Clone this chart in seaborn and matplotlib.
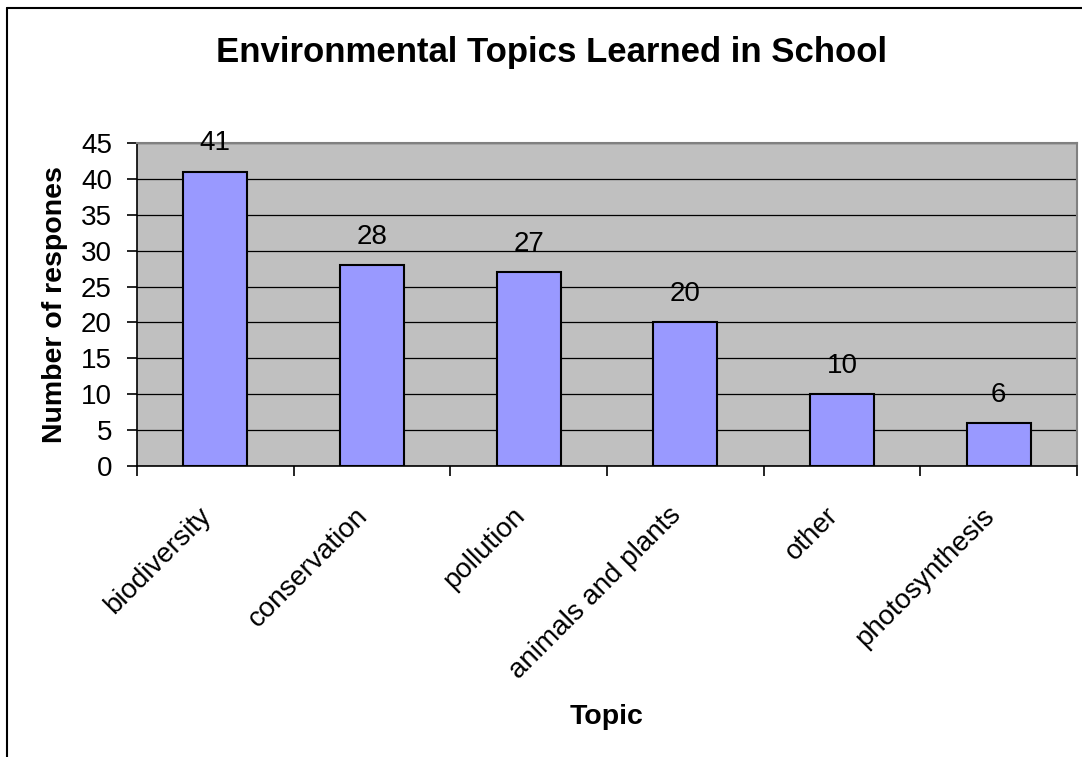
import matplotlib
matplotlib.use("Agg")
import matplotlib.pyplot as plt
from matplotlib.lines import Line2D
import numpy as np
import pandas as pd
import seaborn as sns

# chart data
topics = ["biodiversity", "conservation", "pollution",
          "animals and plants", "other", "photosynthesis"]
responses = [41, 28, 27, 20, 10, 6]
y_ticks = [0, 5, 10, 15, 20, 25, 30, 35, 40, 45]

sns.set_style("white")
plt.rcParams['font.family'] = ['Liberation Sans', 'DejaVu Sans']
plt.rcParams['text.color'] = 'black'
plt.rcParams['xtick.color'] = 'black'
plt.rcParams['ytick.color'] = 'black'
plt.rcParams['axes.labelcolor'] = 'black'

df = pd.DataFrame({"topic": topics, "responses": responses})

fig = plt.figure(figsize=(10.82, 7.57), dpi=100)
ax = fig.add_axes([0.1266, 0.3844, 0.8688, 0.4267])

sns.barplot(data=df, x="topic", y="responses", color="#9999FF",
            saturation=1, width=0.41, edgecolor="black", linewidth=1.5,
            ax=ax, zorder=3)

ax.set_facecolor("#C0C0C0")
ax.set_xlim(-0.5, len(topics) - 0.5)
ax.set_ylim(0, 45)
ax.set_yticks(y_ticks)
ax.yaxis.grid(True, color="black", linewidth=0.9, zorder=1)
ax.set_axisbelow(True)

for side in ["top", "right"]:
    ax.spines[side].set_color("#808080")
    ax.spines[side].set_linewidth(1.5)
for side in ["left", "bottom"]:
    ax.spines[side].set_color("black")
    ax.spines[side].set_linewidth(1.2)

# value labels above bars
for i, v in enumerate(responses):
    ax.annotate(str(v), (i, v), xytext=(0, 11), textcoords="offset points",
                ha="center", va="bottom", fontsize=20)

# ticks between categories on x; labels (slightly left of centre, Excel-like)
ax.set_xticks([i - 0.5 for i in range(len(topics) + 1)], minor=False)
ax.set_xticklabels([])
ax.set_xticks(np.arange(len(topics)) - 0.05, minor=True)
ax.set_xticklabels(topics, minor=True, rotation=45, ha="right",
                   va="center", rotation_mode="anchor", fontsize=20)
ax.tick_params(axis="x", which="major", direction="out", length=7,
               width=1.2, color="black", bottom=True)
ax.tick_params(axis="x", which="minor", length=0, pad=33)
ax.tick_params(axis="y", direction="out", length=7, width=1.2,
               color="black", left=True, labelsize=20, pad=11)

ax.set_xlabel("Topic", fontsize=20.5, fontweight="bold", labelpad=14)
ax.set_ylabel("Number of respones", fontsize=20.5, fontweight="bold",
              labelpad=9)

fig.text(552 / 1082, 0.931, "Environmental Topics Learned in School",
         ha="center", va="center", fontsize=25, fontweight="bold")

# outer chart frame (cropped at right and bottom)
fig.add_artist(Line2D([7 / 1082, 7 / 1082], [0, 1 - 8 / 757],
                      transform=fig.transFigure, color="black", linewidth=1.5))
fig.add_artist(Line2D([7 / 1082, 1], [1 - 8 / 757, 1 - 8 / 757],
                      transform=fig.transFigure, color="black", linewidth=1.5))

fig.savefig("out.png", dpi=100, facecolor="white")
